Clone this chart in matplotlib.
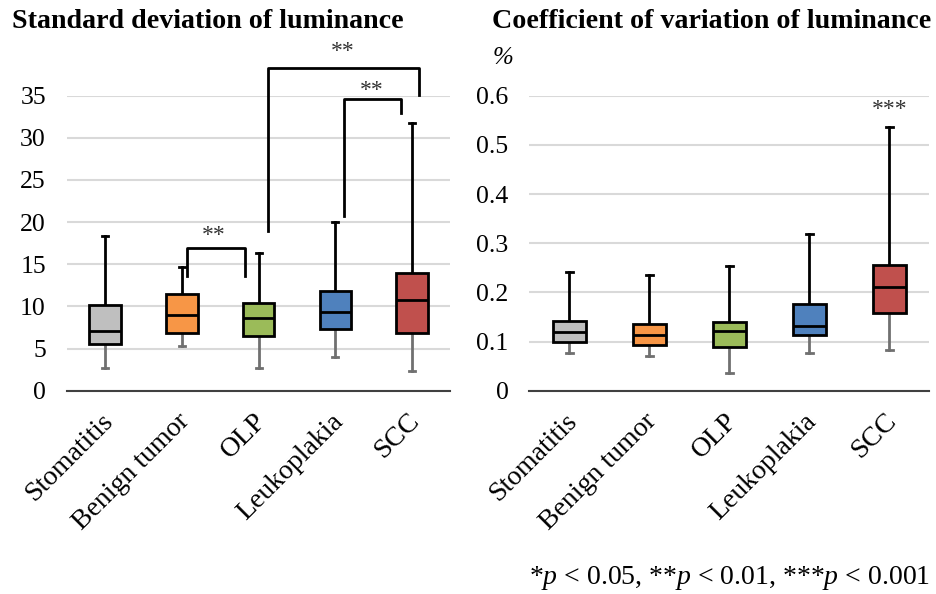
import matplotlib
matplotlib.use("Agg")
import matplotlib.pyplot as plt
from matplotlib.transforms import ScaledTranslation

plt.rcParams['font.family'] = ['Liberation Serif', 'DejaVu Serif']
plt.rcParams['mathtext.fontset'] = 'custom'
plt.rcParams['mathtext.rm'] = 'Liberation Serif'
plt.rcParams['mathtext.it'] = 'Liberation Serif:italic'

# Categories and box statistics
groups = ["Stomatitis", "Benign tumor", "OLP", "Leukoplakia", "SCC"]
colors = ["#BFBFBF", "#F79646", "#9BBB59", "#4F81BD", "#C0504D"]

# Standard deviation of luminance
sd_low = [2.7, 5.3, 2.7, 4.0, 2.3]
sd_q1 = [5.5, 6.9, 6.5, 7.35, 6.9]
sd_med = [7.1, 9.0, 8.65, 9.3, 10.8]
sd_q3 = [10.2, 11.5, 10.4, 11.8, 14.0]
sd_high = [18.35, 14.7, 16.3, 20.0, 31.75]

# Coefficient of variation of luminance
cv_low = [0.077, 0.071, 0.035, 0.076, 0.083]
cv_q1 = [0.098, 0.092, 0.088, 0.113, 0.159]
cv_med = [0.119, 0.113, 0.121, 0.132, 0.210]
cv_q3 = [0.142, 0.136, 0.140, 0.177, 0.256]
cv_high = [0.241, 0.235, 0.254, 0.319, 0.537]


def draw_boxes(ax, low, q1, med, q3, high):
    stats = []
    for i in range(len(groups)):
        stats.append({"whislo": low[i], "q1": q1[i], "med": med[i],
                      "q3": q3[i], "whishi": high[i], "label": groups[i]})
    parts = ax.bxp(stats, positions=range(len(groups)), widths=0.41,
                   patch_artist=True, showfliers=False,
                   boxprops=dict(edgecolor="black", linewidth=2),
                   medianprops=dict(color="black", linewidth=2),
                   whiskerprops=dict(linewidth=2),
                   capprops=dict(linewidth=2), capwidths=0.08)
    for patch, c in zip(parts["boxes"], colors):
        patch.set_facecolor(c)
    # lower whiskers grey, upper whiskers black
    for k, w in enumerate(parts["whiskers"]):
        w.set_color("#707070" if k % 2 == 0 else "black")
    for k, cp in enumerate(parts["caps"]):
        cp.set_color("#707070" if k % 2 == 0 else "black")
    for b in parts["boxes"]:
        b.set_zorder(3)
    for m in parts["medians"]:
        m.set_zorder(4)


def style_axis(ax, top, step):
    ax.set_xlim(-0.5, len(groups) - 0.5)
    ax.set_ylim(0, top)
    ax.set_yticks([step * i for i in range(int(round(top / step)) + 1)])
    ax.yaxis.grid(True, color="#D9D9D9", linewidth=1.5)
    ax.set_axisbelow(True)
    for s in ["top", "right", "left"]:
        ax.spines[s].set_visible(False)
    ax.spines["bottom"].set_color("#404040")
    ax.spines["bottom"].set_linewidth(1.5)
    ax.tick_params(axis="y", length=0, labelsize=18.5, pad=15)
    ax.tick_params(axis="x", length=0, labelsize=20, pad=13)
    ax.set_xticks(range(len(groups)))
    ax.set_xticklabels(groups, rotation=45, ha="right", rotation_mode="anchor")
    shift = ScaledTranslation(-5 / 100, 0, fig.dpi_scale_trans)
    for lab in ax.get_xticklabels():
        lab.set_transform(lab.get_transform() + shift)


def bracket(ax, x1, y1, x2, y2, ytop, label, xt, yt):
    ax.plot([x1, x1, x2, x2], [y1, ytop, ytop, y2], color="black",
            linewidth=2, clip_on=False)
    ax.text(xt, yt, label, ha="center", va="center", fontsize=17, color="#333333")


fig = plt.figure(figsize=(9.36, 5.94), dpi=100)

ax1 = fig.add_axes([0.0713, 0.3423, 0.410, 0.4966])
draw_boxes(ax1, sd_low, sd_q1, sd_med, sd_q3, sd_high)
style_axis(ax1, 35, 5)
bracket(ax1, 1.07, 13.6, 1.82, 13.6, 16.9, "**", 1.42, 18.4)
bracket(ax1, 2.12, 18.9, 4.09, 35.1, 38.3, "**", 3.1, 40.3)
bracket(ax1, 3.11, 20.7, 3.85, 33.0, 34.6, "**", 3.48, 35.6)

ax2 = fig.add_axes([529.3 / 936, 0.3423, 400 / 936, 0.4966])
draw_boxes(ax2, cv_low, cv_q1, cv_med, cv_q3, cv_high)
style_axis(ax2, 0.6, 0.1)
ax2.set_yticklabels(["0", "0.1", "0.2", "0.3", "0.4", "0.5", "0.6"])
ax2.text(4, 0.572, "***", ha="center", va="center", fontsize=17, color="#333333")
fig.text(503 / 936, 1 - 58 / 594, "%", ha="center", va="center",
         fontsize=18, style="italic")

fig.text(12 / 936, 1 - 22 / 594, "Standard deviation of luminance",
         ha="left", va="center", fontsize=20.2, fontweight="bold")
fig.text(931 / 936, 1 - 22 / 594, "Coefficient of variation of luminance",
         ha="right", va="center", fontsize=20.2, fontweight="bold")

fig.text(930 / 936, 1 - 578 / 594,
         r"*$\mathit{p}$ < 0.05, **$\mathit{p}$ < 0.01, ***$\mathit{p}$ < 0.001",
         ha="right", va="center", fontsize=20)

fig.savefig("out.png", dpi=100)
